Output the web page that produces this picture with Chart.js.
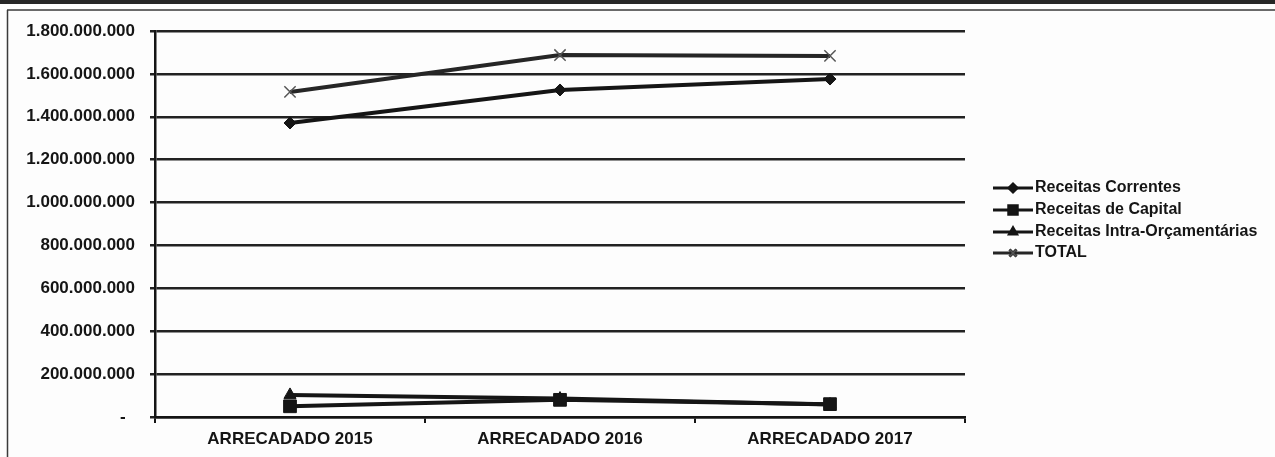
<!DOCTYPE html>
<html lang="pt-BR">
<head>
<meta charset="utf-8">
<title>Receitas arrecadadas 2015-2017</title>
<script src="https://cdn.jsdelivr.net/npm/chart.js@4.4.1/dist/chart.umd.min.js"></script>
<style>
  html, body { margin: 0; padding: 0; background: #fff; }
  canvas { display: block; }
</style>
</head>
<body>
<canvas id="chart" width="1275" height="457"></canvas>
<script>
// Categorias (exercícios) e valores arrecadados, em R$
const categories = ['ARRECADADO 2015', 'ARRECADADO 2016', 'ARRECADADO 2017'];
const receitasCorrentes = [1371000000, 1525000000, 1576000000];
const receitasCapital = [50000000, 80000000, 60000000];
const receitasIntra = [103000000, 86000000, 58000000];
const totalArrecadado = [1516000000, 1688000000, 1684000000];

const seriesNames = ['Receitas Correntes', 'Receitas de Capital', 'Receitas Intra-Orçamentárias', 'TOTAL'];
const yMax = 1800000000;
const yStep = 200000000;

const INK = '#151515';

// separador de milhar com ponto; zero aparece como traço
function formatBR(v) {
  if (v === 0) return '-  ';
  return String(Math.round(v)).replace(/\B(?=(\d{3})+(?!\d))/g, '.');
}

function makeSeries(label, data, style, radius, color, borderW) {
  return {
    label,
    data,
    borderColor: color,
    backgroundColor: color,
    borderWidth: 4,
    pointStyle: style,
    pointRadius: radius,
    pointHoverRadius: radius,
    pointBorderColor: color,
    pointBackgroundColor: color,
    pointBorderWidth: borderW,
    tension: 0,
    fill: false
  };
}

const datasets = [
  makeSeries(seriesNames[0], receitasCorrentes, 'rectRot', 6, INK, 1),
  makeSeries(seriesNames[1], receitasCapital, 'rect', 9, INK, 1),
  makeSeries(seriesNames[2], receitasIntra, 'triangle', 7, INK, 1),
  makeSeries(seriesNames[3], totalArrecadado, 'crossRot', 8, '#262626', 1.5)
];
datasets[3].pointBorderColor = '#555';

// moldura do quadro em volta do gráfico
const framePlugin = {
  id: 'frame',
  beforeDraw(chart) {
    const ctx = chart.ctx;
    ctx.save();
    ctx.fillStyle = '#fdfdfd';
    ctx.fillRect(0, 0, chart.width, chart.height);
    ctx.fillStyle = '#262626';
    ctx.fillRect(0, 0, chart.width, 4);
    ctx.strokeStyle = '#3a3a3a';
    ctx.lineWidth = 1.5;
    ctx.beginPath();
    ctx.moveTo(7, 10);
    ctx.lineTo(chart.width, 10);
    ctx.moveTo(7.5, 10);
    ctx.lineTo(7.5, chart.height);
    ctx.stroke();
    ctx.restore();
  }
};

// legenda com amostra de linha + marcador, como no Excel
const legendPlugin = {
  id: 'lineLegend',
  afterDraw(chart) {
    const ctx = chart.ctx;
    const x0 = 993, x1 = 1033, textX = 1035;
    const rows = [188, 210, 232, 253];
    ctx.save();
    chart.data.datasets.forEach((ds, i) => {
      const y = rows[i];
      ctx.strokeStyle = ds.borderColor;
      ctx.lineWidth = 3;
      ctx.beginPath();
      ctx.moveTo(x0, y);
      ctx.lineTo(x1, y);
      ctx.stroke();
      const r = ds.pointStyle === 'rect' ? 6 : (ds.pointStyle === 'crossRot' ? 5 : 4);
      Chart.helpers.drawPoint(ctx, {
        pointStyle: ds.pointStyle,
        radius: r,
        rotation: 0,
        borderWidth: ds.pointBorderWidth
      }, (x0 + x1) / 2, y);
      ctx.fillStyle = ds.pointBackgroundColor;
      ctx.strokeStyle = ds.pointBorderColor;
      ctx.lineWidth = ds.pointBorderWidth;
      ctx.fill();
      ctx.stroke();
      ctx.fillStyle = '#151515';
      ctx.font = 'bold 16px "Liberation Sans", Arial, sans-serif';
      ctx.textBaseline = 'middle';
      ctx.textAlign = 'left';
      ctx.fillText(ds.label, textX, y);
    });
    ctx.restore();
  }
};

new Chart(document.getElementById('chart'), {
  type: 'line',
  data: { labels: categories, datasets },
  plugins: [framePlugin, legendPlugin],
  options: {
    responsive: false,
    animation: false,
    devicePixelRatio: 1,
    layout: { padding: { left: 10, top: 31, right: 310, bottom: 0 } },
    plugins: {
      legend: { display: false },
      tooltip: { enabled: false }
    },
    scales: {
      x: {
        offset: true,
        afterFit(scale) { scale.height = 40; },
        grid: {
          display: true,
          drawOnChartArea: false,
          offset: true,
          tickLength: 6,
          color: INK,
          lineWidth: 2
        },
        border: { display: true, color: INK, width: 2.5 },
        ticks: {
          color: '#151515',
          padding: 6,
          maxRotation: 0,
          font: { family: '"Liberation Sans", Arial, sans-serif', size: 17, weight: 'bold' }
        }
      },
      y: {
        min: 0,
        max: yMax,
        afterFit(scale) { scale.width = 145; },
        grid: {
          color: '#222',
          lineWidth: 2.5,
          tickLength: 5,
          drawTicks: true
        },
        border: { display: true, color: INK, width: 2.5 },
        ticks: {
          stepSize: yStep,
          color: '#151515',
          padding: 15,
          callback: (v) => formatBR(v),
          font: { family: '"Liberation Sans", Arial, sans-serif', size: 17, weight: 'bold' }
        }
      }
    }
  }
});
</script>
</body>
</html>
